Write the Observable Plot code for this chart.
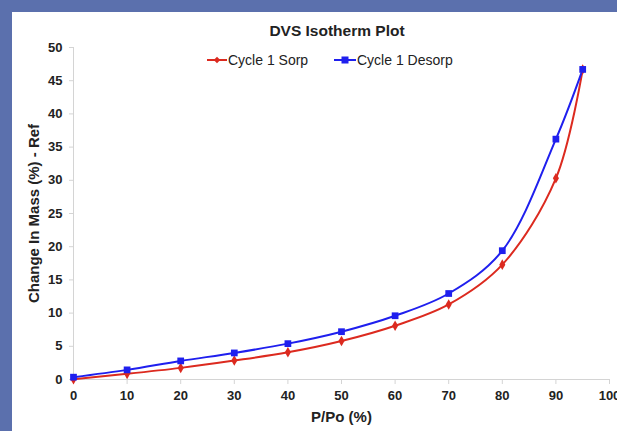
<!DOCTYPE html>
<html>
<head>
<meta charset="utf-8">
<script src="https://cdn.jsdelivr.net/npm/d3@7"></script>
<script src="https://cdn.jsdelivr.net/npm/@observablehq/plot@0.6"></script>
<style>
  html, body { margin: 0; padding: 0; background: #5b70ad; width: 617px; height: 431px; overflow: hidden; }
  #panel { position: absolute; left: 12px; top: 12px; width: 605px; height: 419px; background: #fff; }
  #chart { position: absolute; left: 0; top: 0; }
  .ov { position: absolute; font-family: "Liberation Sans", Arial, sans-serif; color: #222; white-space: nowrap; }
  #title { font-weight: bold; font-size: 15.5px; left: 0; width: 674px; text-align: center; top: 22px; }
  .leg { top: 52px; font-size: 14px; display: flex; align-items: center; }
  .leg svg { margin-right: 1px; }
</style>
</head>
<body>
<div id="panel"></div>
<div id="chart"></div>
<div id="title" class="ov">DVS Isotherm Plot</div>
<div class="ov leg" style="left:207px"><svg width="20" height="12"><line x1="0" y1="6" x2="20" y2="6" stroke="#dc2a1f" stroke-width="2"/><path d="M10 2.7 L13.3 6 L10 9.3 L6.7 6 Z" fill="#dc2a1f"/></svg>Cycle 1 Sorp</div>
<div class="ov leg" style="left:334px"><svg width="22" height="12"><line x1="0" y1="6" x2="22" y2="6" stroke="#1f1fee" stroke-width="2"/><rect x="7.5" y="2.5" width="7" height="7" fill="#1f1fee"/></svg>Cycle 1 Desorp</div>
<script>
const pressure = [0, 10, 20, 30, 40, 50, 60, 70, 80, 90, 95];
const sorp =   [0.05, 0.85, 1.75, 2.85, 4.1, 5.8, 8.1, 11.3, 17.3, 30.3, 46.7];
const desorp = [0.35, 1.45, 2.8, 4.0, 5.4, 7.2, 9.6, 12.95, 19.4, 36.2, 46.7];
const xTicks = [0, 10, 20, 30, 40, 50, 60, 70, 80, 90, 100];
const yTicks = [0, 5, 10, 15, 20, 25, 30, 35, 40, 45, 50];

const sorpData = pressure.map((p, i) => ({p, v: sorp[i]}));
const desorpData = pressure.map((p, i) => ({p, v: desorp[i]}));

const red = "#dc2a1f", blue = "#1f1fee", axisGray = "#d4d4d4", textCol = "#222";

const chart = Plot.plot({
  width: 617,
  height: 431,
  marginLeft: 73,
  marginRight: 8,
  marginTop: 47,
  marginBottom: 52,
  style: {fontFamily: "'Liberation Sans', Arial, sans-serif", background: "transparent", overflow: "visible"},
  x: {domain: [0, 100]},
  y: {domain: [0, 50]},
  marks: [
    Plot.ruleX([0], {stroke: axisGray}),
    Plot.ruleY([0], {stroke: axisGray}),
    Plot.axisX({ticks: xTicks, tickSize: 5, tickPadding: 6, stroke: axisGray, fill: textCol, fontSize: 13, fontWeight: "bold",
      label: null}),
    Plot.axisX({ticks: [], label: "P/Po (%)", labelAnchor: "center", labelArrow: "none", labelOffset: 42,
      fill: textCol, fontSize: 15, fontWeight: "bold"}),
    Plot.axisY({ticks: yTicks, tickSize: 4, tickPadding: 7, stroke: axisGray, fill: textCol, fontSize: 13, fontWeight: "bold",
      label: null}),
    Plot.axisY({ticks: [], label: "Change In Mass (%) - Ref", labelAnchor: "center", labelArrow: "none", labelOffset: 45,
      fill: textCol, fontSize: 15, fontWeight: "bold"}),
    Plot.line(sorpData, {x: "p", y: "v", stroke: red, strokeWidth: 2, curve: "catmull-rom"}),
    Plot.line(desorpData, {x: "p", y: "v", stroke: blue, strokeWidth: 2, curve: "catmull-rom"}),
    Plot.dot(sorpData, {x: "p", y: "v", symbol: "diamond", r: 3.2, fill: red}),
    Plot.dot(desorpData, {x: "p", y: "v", symbol: "square", r: 3.8, fill: blue})
  ]
});
document.getElementById("chart").appendChild(chart);
</script>
</body>
</html>
